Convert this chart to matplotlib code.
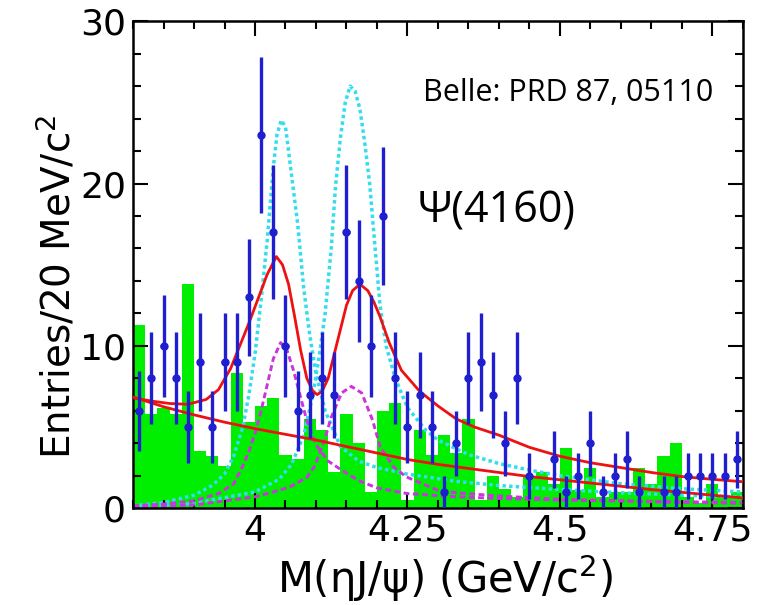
import numpy as np
import matplotlib
matplotlib.use("Agg")
import matplotlib.pyplot as plt
from matplotlib.ticker import MultipleLocator

plt.rcParams['font.family'] = ['DejaVu Sans']
plt.rcParams['mathtext.fontset'] = 'dejavusans'

# 20 MeV bins from 3.80 to 4.80 GeV
x_lo, x_hi, bin_w = 3.80, 4.80, 0.02

# events per bin (blue points)
counts = [6, 8, 10, 8, 5, 9, 5, 9, 9, 13,
          23, 17, 10, 6, 7, 8, 7, 17, 14, 10,
          18, 8, 5, 7, 5, 1, 4, 8, 9, 7,
          4, 8, 2, 0, 3, 1, 2, 4, 1, 2,
          3, 1, 0, 1, 1, 2, 2, 2, 2, 3]

# sideband background (green histogram)
sideband = [11.3, 5.8, 6.2, 5.8, 13.8, 3.5, 3.2, 2.6, 8.3, 5.3,
            6.3, 6.8, 3.3, 3.0, 5.5, 4.8, 2.2, 5.8, 4.0, 1.0,
            6.0, 6.5, 0.5, 4.8, 3.3, 4.5, 3.4, 5.5, 0.5, 2.0,
            1.2, 0.7, 2.0, 2.2, 1.5, 3.7, 1.1, 2.5, 0.7, 1.0,
            1.0, 2.5, 1.5, 3.2, 4.0, 0.7, 0.3, 1.5, 0.7, 1.0]

# total fit (red solid)
fit_x = [3.80, 3.83, 3.86, 3.89, 3.92, 3.94, 3.96, 3.975, 3.99, 4.005,
         4.02, 4.035, 4.045, 4.055, 4.065, 4.075, 4.085, 4.095, 4.102, 4.11,
         4.12, 4.13, 4.14, 4.15, 4.16, 4.172, 4.185, 4.195, 4.205, 4.22,
         4.24, 4.27, 4.30, 4.33, 4.36, 4.40, 4.45, 4.50, 4.55, 4.60,
         4.65, 4.70, 4.75, 4.80]
fit_y = [6.8, 6.6, 6.45, 6.4, 6.7, 7.3, 8.6, 10.0, 11.4, 12.9,
         14.4, 15.5, 15.0, 13.8, 11.8, 9.7, 8.0, 7.2, 7.0, 7.2,
         8.0, 9.5, 11.0, 12.5, 13.4, 13.8, 13.4, 12.7, 11.8, 10.2,
         8.5, 7.2, 6.3, 5.5, 5.0, 4.5, 3.75, 3.2, 2.8, 2.5,
         2.2, 1.95, 1.78, 1.63]

# background component (red solid, lower)
bkg_x = [3.80, 3.85, 3.90, 3.95, 4.00, 4.05, 4.10, 4.15, 4.20, 4.25, 4.30,
         4.35, 4.40, 4.45, 4.50, 4.55, 4.60, 4.65, 4.70, 4.75, 4.80]
bkg_y = [6.85, 6.25, 5.75, 5.3, 4.9, 4.55, 4.2, 3.8, 3.4, 3.0, 2.7,
         2.45, 2.2, 1.95, 1.75, 1.55, 1.35, 1.15, 0.98, 0.8, 0.63]

# resonance components, two fit solutions (cyan / magenta)
cyan1_x = [3.80, 3.85, 3.90, 3.93, 3.95, 3.965, 3.98, 3.99, 4.00, 4.01,
           4.02, 4.03, 4.036, 4.043, 4.05, 4.06, 4.07, 4.08, 4.09, 4.10,
           4.115, 4.14, 4.17, 4.20, 4.25, 4.33, 4.40, 4.50, 4.60, 4.70, 4.80]
cyan1_y = [0.15, 0.35, 0.8, 1.4, 2.1, 3.2, 5.0, 7.0, 9.5, 12.8,
           16.5, 21.0, 23.0, 23.9, 23.5, 20.5, 17.5, 13.5, 10.6, 8.3,
           6.0, 3.8, 2.9, 2.5, 2.1, 1.65, 1.4, 1.15, 0.95, 0.8, 0.7]

cyan2_x = [3.80, 3.90, 4.00, 4.04, 4.06, 4.08, 4.095, 4.105, 4.115, 4.125,
           4.132, 4.14, 4.148, 4.156, 4.164, 4.172, 4.18, 4.188, 4.197, 4.205,
           4.215, 4.23, 4.25, 4.28, 4.30, 4.35, 4.40, 4.45, 4.50, 4.60,
           4.70, 4.80]
cyan2_y = [0.05, 0.3, 1.0, 1.8, 2.7, 4.5, 7.0, 9.3, 12.0, 16.0,
           19.8, 22.8, 25.0, 26.0, 25.7, 24.6, 22.5, 20.0, 16.0, 12.5,
           10.0, 8.0, 6.2, 4.8, 4.2, 3.3, 2.75, 2.35, 2.0, 1.5,
           1.2, 1.0]

mag1_x = [3.80, 3.85, 3.90, 3.94, 3.965, 3.98, 3.99, 4.00, 4.01, 4.02,
          4.03, 4.042, 4.052, 4.063, 4.075, 4.085, 4.10, 4.12, 4.14, 4.17,
          4.20, 4.25, 4.33, 4.40, 4.50, 4.60, 4.70, 4.80]
mag1_y = [0.15, 0.25, 0.45, 0.9, 1.5, 2.6, 3.5, 4.6, 6.0, 7.6,
          9.2, 10.2, 9.8, 8.5, 6.8, 5.4, 3.9, 2.9, 2.4, 1.7,
          1.25, 0.9, 0.7, 0.6, 0.5, 0.45, 0.4, 0.35]

mag2_x = [3.80, 3.90, 4.00, 4.03, 4.057, 4.085, 4.098, 4.114, 4.125, 4.142,
          4.158, 4.175, 4.193, 4.205, 4.227, 4.248, 4.30, 4.33, 4.40, 4.50,
          4.60, 4.70, 4.80]
mag2_y = [0.05, 0.2, 0.7, 1.0, 1.3, 1.9, 2.6, 4.2, 5.6, 7.1,
          7.5, 7.1, 5.4, 3.8, 2.55, 1.93, 1.1, 0.95, 0.75, 0.55,
          0.45, 0.35, 0.3]

n_bins = len(counts)
centers = x_lo + bin_w * (np.arange(n_bins) + 0.5)
counts = np.array(counts, dtype=float)

fig = plt.figure(figsize=(7.69, 6.05), dpi=100)
ax = fig.add_axes([0.173, 0.160, 0.793, 0.805])

ax.bar(centers, sideband, width=bin_w, color='#00ee00', linewidth=0, zorder=1)

ax.plot(cyan1_x, cyan1_y, color='#33ddee', lw=2.5, dashes=(1.0, 0.9), zorder=2)
ax.plot(cyan2_x, cyan2_y, color='#33ddee', lw=2.5, dashes=(1.0, 0.9), zorder=2)
ax.plot(mag1_x, mag1_y, color='#cc33dd', lw=2.1, dashes=(2.0, 1.2), zorder=2)
ax.plot(mag2_x, mag2_y, color='#cc33dd', lw=2.1, dashes=(2.0, 1.2), zorder=2)
ax.plot(bkg_x, bkg_y, color='#ee1111', lw=2.0, zorder=3)
ax.plot(fit_x, fit_y, color='#ee1111', lw=2.0, zorder=3)

# zero bins are not drawn
m = counts > 0
ax.errorbar(centers[m], counts[m], yerr=np.sqrt(counts[m]), xerr=0.005,
            fmt='o', color='#1f1fd0', ms=5, elinewidth=2.4, capsize=0, zorder=4)

ax.set_xlim(x_lo, x_hi)
ax.set_ylim(0, 30)
ax.set_xticks([4, 4.25, 4.5, 4.75])
ax.set_xticklabels(['4', '4.25', '4.5', '4.75'])
ax.set_yticks([0, 10, 20, 30])
ax.xaxis.set_minor_locator(MultipleLocator(0.05))
ax.yaxis.set_minor_locator(MultipleLocator(2))
ax.tick_params(which='both', direction='in', top=True, right=True, width=1.5)
ax.tick_params(which='major', length=11, labelsize=26)
ax.tick_params(axis='x', which='major', pad=4)
ax.tick_params(axis='y', which='major', pad=5)
ax.tick_params(which='minor', length=6)
for s in ax.spines.values():
    s.set_linewidth(1.8)

ax.set_xlabel('M(\u03b7J/\u03c8) (GeV/c$^{2}$)', fontsize=30)
ax.set_ylabel('Entries/20 MeV/c$^{2}$', fontsize=28)
ax.xaxis.set_label_coords(0.511, -0.090)
ax.yaxis.set_label_coords(-0.090, 0.454)

ax.text(0.475, 0.836, 'Belle: PRD 87, 05110', transform=ax.transAxes,
        fontsize=22, family=['Open Sans', 'DejaVu Sans'], ha='left', va='baseline')
ax.text(0.467, 0.587, '\u03a8(4160)', transform=ax.transAxes,
        fontsize=31, family=['Open Sans', 'DejaVu Sans'], ha='left', va='baseline')

fig.savefig('out.png', dpi=100)
